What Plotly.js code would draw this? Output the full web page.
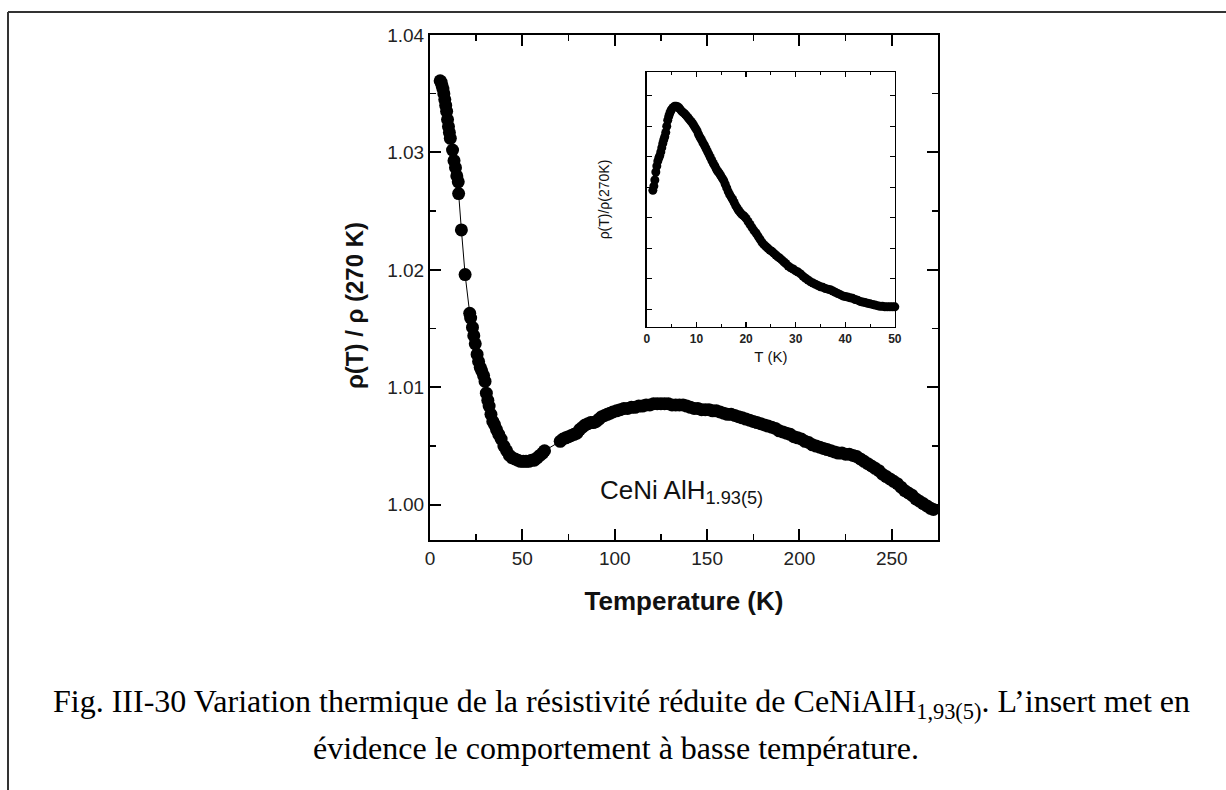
<!DOCTYPE html>
<html>
<head>
<meta charset="utf-8">
<script src="https://cdn.plot.ly/plotly-3.0.1.min.js"></script>
<style>html,body{margin:0;padding:0;background:#fff;}#chart{width:1226px;height:790px;}</style>
</head>
<body>
<div id="chart"></div>
<script>
// Main panel: reduced resistivity vs temperature
const mainT = [5.5,6.0,6.5,7.0,7.5,8.0,8.5,9.0,9.5,10.0,10.5,11.0,12.2,13.0,13.8,14.5,15.3,15.5,17.0,19.0,21.5,22.0,23.0,23.7,24.5,25.5,26.3,27.2,28.0,29.0,29.8,30.5,31.3,32.0,33.0,34.0,35.0,36.0,37.2,38.5,40.0,41.5,43.0,44.5,46.0,47.5,49.0,50.5,52.0,53.5,55.0,56.5,58.0,59.5,61.0,62.0,
70.5,72.0,73.5,75.0,76.5,78.0,79.5,81.0,82.5,84.0,85.5,87.0,88.5,90.0,91.5,93.0,94.5,96.0,97.5,99.0,101,103,105,107,109,111,113,115,117,119,121,123,125,127,129,131,133,135,137,139,141,143,145,147,149,151,153,155,157,159,161,163,165,167,169,171,173,175,177,179,181,183,185,187,189,191,193,195,197,199,201,203,205,207,209,211,213,215,217,219,221,223,225,227,229,231,233,235,237,239,241,243,245,247,249,251,253,255,257,259,261,263,265,267,269,271,272.5];
const mainRho = [1.0361,1.0360,1.0357,1.0354,1.0350,1.0345,1.0340,1.0335,1.0328,1.0322,1.0317,1.0312,1.0302,1.0293,1.0287,1.0280,1.0275,1.0265,1.0234,1.0196,1.0163,1.0159,1.0151,1.0144,1.0137,1.0128,1.0122,1.0117,1.0114,1.0110,1.0105,1.0095,1.0089,1.0084,1.0077,1.0071,1.0068,1.0064,1.0060,1.0056,1.0050,1.0046,1.0042,1.0040,1.0039,1.0038,1.0037,1.0037,1.0037,1.0037,1.0038,1.0038,1.0040,1.0042,1.0044,1.0046,
1.0054,1.0056,1.0057,1.0058,1.0059,1.0060,1.0061,1.0064,1.0066,1.0068,1.0069,1.0070,1.0070,1.0071,1.0073,1.0075,1.0076,1.0077,1.0078,1.0079,1.0080,1.0081,1.0082,1.0082,1.0083,1.0083,1.0084,1.0084,1.0085,1.0085,1.0086,1.0086,1.0086,1.0086,1.0086,1.0085,1.0085,1.0085,1.0085,1.0084,1.0083,1.0082,1.0082,1.0081,1.0081,1.0081,1.0080,1.0080,1.0079,1.0078,1.0077,1.0077,1.0076,1.0075,1.0074,1.0073,1.0072,1.0071,1.0070,1.0069,1.0068,1.0067,1.0066,1.0065,1.0063,1.0062,1.0061,1.0060,1.0058,1.0057,1.0056,1.0054,1.0053,1.0051,1.0050,1.0049,1.0048,1.0047,1.0046,1.0045,1.0044,1.0044,1.0043,1.0043,1.0042,1.0041,1.0039,1.0037,1.0035,1.0033,1.0031,1.0029,1.0026,1.0024,1.0022,1.0020,1.0018,1.0015,1.0012,1.0010,1.0008,1.0005,1.0003,1.0001,0.9999,0.9997,0.9996];

// Inset: low-temperature behaviour
const insetT = [1.2,1.4,1.6,1.8,2.0,2.2,2.4,2.6,2.8,3.0,3.2,3.4,3.6,3.8,4.0,4.2,4.4,4.6,4.8,5.0,5.3,5.6,5.9,6.2,6.5,6.8,7.1,7.4,7.7,8.0,8.3,8.6,8.9,9.2,9.5,9.8,10.1,10.4,10.7,11.0,11.3,11.6,11.9,12.2,12.5,12.8,13.1,13.4,13.7,14.0,14.3,14.6,14.9,15.2,15.5,15.8,16.1,16.4,16.7,17.0,17.3,17.6,17.9,18.2,18.5,18.8,19.1,19.4,19.7,20.0,20.4,20.8,21.2,21.6,22.0,22.4,22.8,23.2,23.6,24.0,24.4,24.8,25.2,25.6,26.0,26.4,26.8,27.2,27.6,28.0,28.5,29.0,29.5,30.0,30.5,31.0,31.5,32.0,32.5,33.0,33.5,34.0,34.5,35.0,35.5,36.0,36.5,37.0,37.5,38.0,38.5,39.0,39.5,40.0,40.5,41.0,41.5,42.0,42.5,43.0,43.5,44.0,44.5,45.0,45.5,46.0,46.5,47.0,47.5,48.0,48.5,49.0,49.5,50.0,50.5,51.0,51.5];
const insetRho = [1.0245,1.0252,1.0262,1.0275,1.0285,1.0293,1.0298,1.0302,1.0308,1.0315,1.0322,1.0328,1.0333,1.0340,1.0350,1.0360,1.0366,1.0371,1.0375,1.0378,1.0381,1.0383,1.0383,1.0382,1.0380,1.0377,1.0374,1.0372,1.0370,1.0367,1.0364,1.0361,1.0358,1.0355,1.0351,1.0347,1.0343,1.0337,1.0332,1.0328,1.0323,1.0319,1.0314,1.0309,1.0304,1.0299,1.0294,1.0289,1.0285,1.0280,1.0276,1.0273,1.0269,1.0265,1.0261,1.0255,1.0249,1.0243,1.0238,1.0234,1.0230,1.0225,1.0220,1.0216,1.0212,1.0209,1.0206,1.0204,1.0202,1.0199,1.0194,1.0189,1.0184,1.0179,1.0175,1.0170,1.0165,1.0160,1.0156,1.0153,1.0150,1.0147,1.0145,1.0142,1.0139,1.0136,1.0134,1.0131,1.0128,1.0125,1.0121,1.0118,1.0116,1.0113,1.0111,1.0108,1.0104,1.0101,1.0098,1.0095,1.0093,1.0091,1.0089,1.0087,1.0086,1.0084,1.0083,1.0082,1.0080,1.0078,1.0076,1.0074,1.0072,1.0071,1.0070,1.0069,1.0068,1.0066,1.0065,1.0063,1.0062,1.0061,1.0060,1.0059,1.0058,1.0057,1.0056,1.0055,1.0055,1.0054,1.0054,1.0054,1.0054,1.0054,1.0055,1.0055,1.0055];

const mainXTicks = [0,50,100,150,200,250];
const mainYTicks = [1.00,1.01,1.02,1.03,1.04];
const insetXTicks = [0,10,20,30,40,50];

const mainYTitle = '<b>ρ(T) / ρ (270 K)</b>';
const sampleLabel = 'CeNi AlH<sub>1.93(5)</sub>';
const captionLine1 = 'Fig. III-30 Variation thermique de la résistivité réduite de CeNiAlH<sub>1,93(5)</sub>. L’insert met en';
const captionLine2 = 'évidence le comportement à basse température.';

const sans = 'Liberation Sans, Arial, sans-serif';
const serif = 'Liberation Serif, Times New Roman, serif';

const traces = [
  {
    x: mainT, y: mainRho, type: 'scatter', mode: 'lines+markers',
    line: {color: '#000', width: 1},
    marker: {color: '#000', size: 13, symbol: 'circle'},
    xaxis: 'x', yaxis: 'y', showlegend: false, cliponaxis: false
  },
  {
    x: insetT, y: insetRho, type: 'scatter', mode: 'lines+markers',
    line: {color: '#000', width: 1},
    marker: {color: '#000', size: 9, symbol: 'circle'},
    xaxis: 'x2', yaxis: 'y2', showlegend: false, cliponaxis: false
  }
];

const axisCommon = {
  showgrid: false, zeroline: false, showline: true, linecolor: '#000',
  mirror: 'ticks', ticks: 'inside', tickcolor: '#000'
};

const layout = {
  width: 1226, height: 790,
  margin: {l: 430, r: 288, t: 35, b: 250},
  paper_bgcolor: '#fff', plot_bgcolor: '#fff',
  font: {family: sans, color: '#000'},
  showlegend: false,
  xaxis: Object.assign({}, axisCommon, {
    domain: [0, 1], range: [0, 275], tickvals: mainXTicks, ticktext: mainXTicks.map(String),
    linewidth: 2, ticklen: 11, tickwidth: 2,
    minor: {dtick: 25, tick0: 0, ticks: 'inside', ticklen: 6, tickwidth: 1.5, tickcolor: '#000', showgrid: false},
    tickfont: {family: sans, size: 19, color: '#222'},
    title: {text: '<b>Temperature (K)</b>', font: {family: sans, size: 26, color: '#111'}, standoff: 24},
    automargin: false
  }),
  yaxis: Object.assign({}, axisCommon, {
    domain: [0, 1], range: [0.997, 1.04], tickvals: mainYTicks, ticktext: mainYTicks.map(v => v.toFixed(2)),
    linewidth: 2, ticklen: 11, tickwidth: 2,
    minor: {dtick: 0.005, tick0: 1.0, ticks: 'inside', ticklen: 6, tickwidth: 1.5, tickcolor: '#000', showgrid: false},
    tickfont: {family: sans, size: 19, color: '#222'},
    automargin: false
  }),
  xaxis2: Object.assign({}, axisCommon, {
    domain: [0.427, 0.915], anchor: 'y2', range: [0, 50], tickvals: insetXTicks, ticktext: insetXTicks.map(v => '<b>' + v + '</b>'),
    linewidth: 1.5, ticklen: 5, tickwidth: 1.2,
    minor: {dtick: 5, tick0: 0, ticks: 'inside', ticklen: 3, tickwidth: 1, tickcolor: '#000', showgrid: false},
    tickfont: {family: sans, size: 12, color: '#222'},
    title: {text: 'T (K)', font: {family: sans, size: 15, color: '#111'}, standoff: 6},
    automargin: false
  }),
  yaxis2: Object.assign({}, axisCommon, {
    domain: [0.4218, 0.9267], anchor: 'x2', range: [1.0021, 1.0439], dtick: 0.005, tick0: 1.0,
    showticklabels: false, linewidth: 1.5, ticklen: 5, tickwidth: 1.2,
    title: {text: 'ρ(T)/ρ(270K)', font: {family: sans, size: 14, color: '#111'}, standoff: 32},
    automargin: false
  }),
  annotations: [
    {xref: 'paper', yref: 'paper', x: -0.1476, y: 0.4634, xanchor: 'center', yanchor: 'middle', textangle: -90, showarrow: false,
     text: mainYTitle, font: {family: sans, size: 24, color: '#111'}},
    {xref: 'x', yref: 'y', x: 91, y: 1.0011, xanchor: 'left', yanchor: 'middle', showarrow: false,
     text: sampleLabel, font: {family: sans, size: 26, color: '#111'}},
    {xref: 'paper', yref: 'paper', x: 0.377, y: -0.3228, xanchor: 'center', yanchor: 'middle', showarrow: false,
     text: captionLine1, font: {family: serif, size: 32, color: '#000'}},
    {xref: 'paper', yref: 'paper', x: 0.3655, y: -0.4119, xanchor: 'center', yanchor: 'middle', showarrow: false,
     text: captionLine2, font: {family: serif, size: 32, color: '#000'}}
  ],
  shapes: [
    {type: 'line', xref: 'paper', yref: 'paper', x0: -0.8307, x1: 1.6, y0: 1.0455, y1: 1.0455, line: {color: '#333', width: 2}},
    {type: 'line', xref: 'paper', yref: 'paper', x0: -0.8307, x1: -0.8307, y0: 1.0455, y1: -0.6, line: {color: '#333', width: 2}}
  ]
};

Plotly.newPlot('chart', traces, layout, {staticPlot: true, displayModeBar: false});
</script>
</body>
</html>
